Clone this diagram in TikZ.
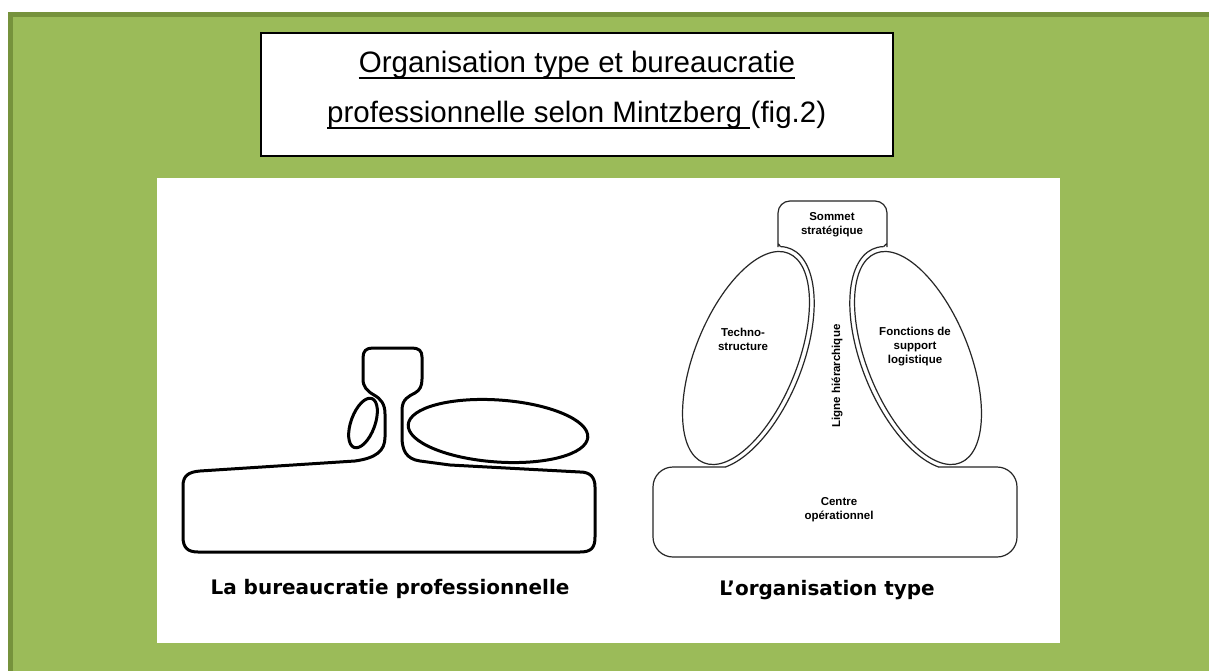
\documentclass[tikz,border=0pt]{standalone}
\usepackage{fontspec}
\setmainfont{Liberation Sans}
\newfontfamily\captionfont{DejaVu Sans}
\begin{document}
\begin{tikzpicture}[x=1pt, y=-1pt,
  thickline/.style={line width=3pt, line join=round, line cap=round},
  thinline/.style={line width=1.2pt, black!85},
  smalllabel/.style={font=\fontsize{11.5}{14}\selectfont\bfseries, align=center, inner sep=0pt},
  captiontext/.style={font=\captionfont\fontsize{20}{24}\selectfont\bfseries, inner sep=0pt},
  titletext/.style={font=\fontsize{29.5}{34}\selectfont, inner sep=0pt}]
\definecolor{MyGreen}{RGB}{155, 187, 89}
\definecolor{MyDarkGreen}{RGB}{118, 146, 60}
\useasboundingbox (0,0) rectangle (1209,671);
\fill[white] (0,0) rectangle (1209,671);
\draw[fill=MyGreen, draw=MyDarkGreen, line width=5pt] (10.5,14.5) rectangle (1240,700);
\fill[white] (157,178) rectangle (1060,643);
\draw[fill=white, line width=2pt] (261,33) rectangle (893,156);
\node[titletext, anchor=base] (titleone) at (577,73) {Organisation type et bureaucratie};
\node[titletext, anchor=base west] (titletwo) at (327,123) {professionnelle selon Mintzberg};
\node[titletext, anchor=base west] (titlefig) at ([xshift=8.2pt]titletwo.base east) {(fig.2)};
\draw[line width=2pt] ([yshift=-5pt]titleone.base west) -- ([yshift=-5pt]titleone.base east);
\draw[line width=2pt] ([yshift=-5pt]titletwo.base west) -- ([yshift=-5pt]titlefig.base west);
\draw[thickline] (198,552) -- (580,552) .. controls (591,552) and (595,548) .. (595,537)
  -- (595,487) .. controls (595,477) and (590,472) .. (580,472)
  -- (450,465) -- (420,461) .. controls (406,459) and (402,450) .. (402,437)
  -- (402,410) .. controls (402,399) and (409,396) .. (415,393)
  .. controls (420,390) and (422,386) .. (422,379)
  -- (422,357) .. controls (422,351) and (419,348) .. (412,348)
  -- (373,348) .. controls (366,348) and (363,351) .. (363,358)
  -- (363,379) .. controls (363,387) and (367,391) .. (374,395)
  .. controls (381,399) and (385,404) .. (385,414)
  -- (385,437) .. controls (385,451) and (376,458) .. (355,461)
  -- (200,471) .. controls (188,472) and (183,476) .. (183,486)
  -- (183,537) .. controls (183,548) and (188,552) .. (198,552) -- cycle;
\draw[thickline, rotate around={-20:(363,423)}] (363,423) ellipse [x radius=12, y radius=26];
\draw[thickline, rotate around={-4:(498,431)}] (498,431) ellipse [x radius=90, y radius=31];
\node[captiontext] (bureau) at (390,589) {La bureaucratie professionnelle};
\foreach \cx/\ang/\s/\e in {746/-22/-100/67, 918/22/-80/-247}{
\begin{scope}[shift={(\cx,358)}, rotate=\ang]
\draw[thinline] (0,0) ellipse [x radius=51, y radius=113];
\draw[thinline] (\s:56 and 118) arc [start angle=\s, end angle=\e, x radius=56, y radius=118];
\end{scope}
}
\draw[thinline, rounded corners=12pt] (780.5,246.7) .. controls (778,243) .. (778,235)
  -- (778,201) -- (887,201) -- (887,235) .. controls (887,243) .. (883.5,246.7);
\draw[thinline, rounded corners=20pt] (726,467) -- (653,467) -- (653,557) -- (1017,557) -- (1017,467) -- (938,467);
\node[smalllabel] (sommet) at (832,225) {Sommet\\stratégique};
\node[smalllabel] (techno) at (743,339) {Techno-\\structure};
\node[smalllabel] (support) at (915,347) {Fonctions de\\support\\logistique};
\node[smalllabel, rotate=90] (ligne) at (837,376) {Ligne hiérarchique};
\node[smalllabel] (centre) at (839,510) {Centre\\opérationnel};
\node[captiontext] (orgtype) at (827,590) {L’organisation type};
\end{tikzpicture}
\end{document}
